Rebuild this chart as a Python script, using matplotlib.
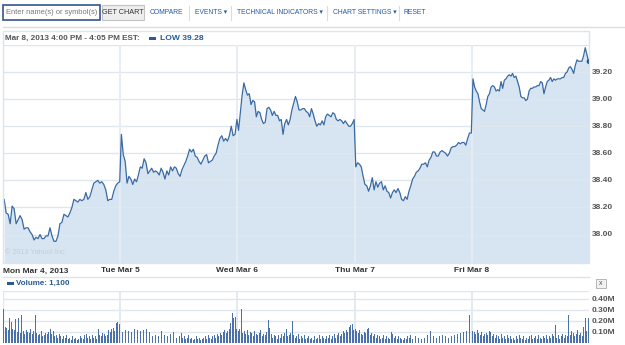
import matplotlib
matplotlib.use("Agg")
import matplotlib.pyplot as plt
from matplotlib.patches import Rectangle
from matplotlib.lines import Line2D
import numpy as np

plt.rcParams['font.family'] = ['Liberation Sans', 'DejaVu Sans']

# ---- data ----
day_labels = ["Mon Mar 4, 2013", "Tue Mar 5", "Wed Mar 6", "Thu Mar 7", "Fri Mar 8"]
price_ticks = [38.00, 38.20, 38.40, 38.60, 38.80, 39.00, 39.20]
vol_ticks = [100, 200, 300, 400]  # thousands

mon_low = [38.26, 38.16, 38.15, 38.08, 38.21, 38.19, 38.08, 38.11, 38.14, 38.11, 38.04, 38.05,
           38.05, 38.02, 38.00, 37.96, 37.98, 37.97, 38.00, 37.97, 37.97, 37.99, 37.99, 38.05,
           37.99, 37.95, 37.95, 37.99, 38.08, 38.09, 38.15, 38.14, 38.13, 38.16, 38.20, 38.26,
           38.25, 38.24, 38.26, 38.25, 38.26, 38.31, 38.26, 38.28, 38.33, 38.38, 38.39, 38.40,
           38.38, 38.39, 38.37, 38.33, 38.25, 38.26, 38.26, 38.32, 38.36, 38.38, 38.39]
tue_low = [38.74, 38.59, 38.54, 38.38, 38.43, 38.41, 38.37, 38.41, 38.39, 38.44, 38.50, 38.49,
           38.56, 38.53, 38.45, 38.47, 38.49, 38.46, 38.47, 38.46, 38.44, 38.49, 38.46, 38.41,
           38.47, 38.44, 38.50, 38.47, 38.50, 38.49, 38.45, 38.43, 38.48, 38.51, 38.54, 38.58,
           38.63, 38.61, 38.63, 38.58, 38.57, 38.54, 38.52, 38.55, 38.58, 38.59, 38.53, 38.54,
           38.55, 38.58, 38.60, 38.66, 38.71, 38.73, 38.69, 38.71, 38.69, 38.73, 38.80, 38.73,
           38.74, 38.85]
wed_low = [38.77, 38.90, 39.03, 39.12, 39.07, 39.03, 39.04, 38.96, 38.99, 38.98, 38.87, 38.91,
           38.90, 38.85, 38.82, 38.83, 38.93, 38.94, 38.92, 38.88, 38.91, 38.88, 38.88, 38.84,
           38.85, 38.74, 38.82, 38.85, 38.81, 38.85, 38.92, 38.97, 39.02, 38.98, 38.92, 38.92,
           38.93, 38.93, 38.91, 38.90, 38.87, 38.93, 38.89, 38.84, 38.80, 38.82, 38.81, 38.84,
           38.81, 38.87, 38.89, 38.88, 38.87, 38.90, 38.89, 38.85, 38.84, 38.85, 38.84, 38.82,
           38.84, 38.82, 38.80, 38.80, 38.82, 38.85]
thu_low = [38.50, 38.53, 38.52, 38.50, 38.43, 38.37, 38.36, 38.32, 38.36, 38.42, 38.33, 38.39,
           38.35, 38.38, 38.39, 38.33, 38.36, 38.32, 38.31, 38.27, 38.31, 38.33, 38.31, 38.34,
           38.31, 38.26, 38.25, 38.28, 38.26, 38.32, 38.36, 38.41, 38.43, 38.46, 38.47, 38.49,
           38.52, 38.52, 38.53, 38.50, 38.55, 38.57, 38.61, 38.61, 38.58, 38.58, 38.61, 38.62,
           38.61, 38.60, 38.58, 38.60, 38.64, 38.65, 38.65, 38.66, 38.68, 38.67, 38.68, 38.68,
           38.66, 38.71, 38.75, 38.75]
fri_low = [39.15, 39.09, 39.06, 39.04, 38.98, 38.93, 38.92, 38.91, 38.96, 39.02, 39.04, 39.09,
           39.10, 39.09, 39.06, 39.07, 39.06, 39.13, 39.08, 39.14, 39.15, 39.17, 39.18, 39.17,
           39.19, 39.16, 39.17, 39.13, 39.09, 39.02, 39.01, 39.01, 38.99, 39.00, 39.06, 39.08,
           39.08, 39.09, 39.09, 39.10, 39.10, 39.13, 39.12, 39.04, 39.09, 39.13, 39.14, 39.16,
           39.13, 39.15, 39.14, 39.15, 39.15, 39.15, 39.16, 39.16, 39.19, 39.20, 39.23, 39.24,
           39.22, 39.19, 39.25, 39.29, 39.28, 39.28, 39.28, 39.32, 39.38, 39.33, 39.28]

# 5-minute volume, thousands of shares
mon_vol = [310, 150, 140, 120, 230, 190, 130, 120, 220, 100, 230, 90, 260, 110, 80, 120, 100, 90,
           130, 80, 110, 260, 90, 70, 80, 110, 60, 70, 90, 80, 100, 130, 80, 110, 60, 70, 50, 80,
           60, 40, 60, 50, 70, 40, 50, 30, 60, 40, 50, 30, 40, 60, 50, 40, 70, 80, 50, 60, 40, 70,
           50, 60, 40, 130, 70, 60, 90, 80, 60, 70, 120, 100, 130, 140, 110, 180, 190, 170]
tue_vol = [110, 100, 90, 120, 220, 110, 90, 100, 80, 130, 90, 120, 70, 110, 80, 120, 90, 130,
           70, 100, 80, 60, 90, 70, 100, 60, 80, 110, 170, 70, 90, 60, 110, 80, 60, 100, 70, 50,
           80, 60, 90, 50, 60, 40, 50, 70, 40, 50, 30, 40, 60, 40, 50, 30, 40, 50, 60, 40, 70, 50,
           40, 60, 70, 50, 80, 60, 90, 70, 100, 120, 90, 110, 130, 180, 270, 230, 240, 130]
wed_vol = [110, 130, 310, 90, 110, 80, 120, 70, 100, 90, 60, 110, 80, 70, 90, 120, 60, 80, 70,
           100, 210, 140, 80, 50, 70, 60, 40, 70, 50, 80, 60, 90, 130, 60, 70, 90, 200, 70, 50, 60,
           80, 40, 60, 50, 70, 40, 50, 60, 40, 50, 30, 60, 40, 50, 70, 40, 60, 50, 40, 60, 50, 70,
           40, 60, 80, 50, 70, 90, 60, 80, 110, 90, 120, 100, 150, 160, 170, 120]
thu_vol = [130, 110, 90, 120, 80, 70, 100, 90, 130, 140, 70, 90, 60, 80, 50, 70, 60, 40, 50, 70,
           40, 60, 50, 40, 100, 80, 50, 60, 40, 60, 50, 40, 30, 50, 40, 60, 50, 70, 40, 50, 60, 40,
           50, 120, 40, 60, 50, 40, 70, 80, 110, 90, 60, 70, 50, 80, 60, 40, 70, 50, 60, 80, 50,
           70, 60, 90, 70, 150, 80, 60, 90, 70, 100, 80, 110, 90, 260, 120]
fri_vol = [110, 100, 80, 120, 90, 70, 100, 60, 80, 90, 70, 110, 100, 60, 80, 50, 70, 60, 40, 80,
           50, 60, 40, 70, 50, 60, 40, 50, 30, 60, 40, 70, 50, 40, 60, 30, 50, 40, 60, 70, 40, 50,
           60, 40, 70, 50, 40, 60, 50, 70, 40, 60, 50, 80, 60, 160, 50, 70, 40, 60, 80, 50, 70, 60,
           260, 70, 110, 90, 60, 80, 120, 70, 90, 60, 150, 230, 110, 230]

lows = [mon_low, tue_low, wed_low, thu_low, fri_low]
vols = [mon_vol, tue_vol, wed_vol, thu_vol, fri_vol]

# ---- layout helpers (pixel coords of a 625x345 canvas) ----
W, H = 625, 345
def fx(x):
    return x / W
def fy(y):
    return 1 - y / H

fig = plt.figure(figsize=(6.25, 3.45), dpi=100)
fig.patch.set_facecolor("white")

LINE = "#3a6aa3"
FILL = "#d6e5f1"
GRID = "#dfe7ee"
TICK = "#555555"
BLUE = "#2a5a96"

# ---- toolbar ----
fig.patches.append(Rectangle((fx(3), fy(20)), fx(97), 15 / H, transform=fig.transFigure,
                             fc="white", ec="#34558f", lw=1.2))
fig.text(fx(6), fy(12.5), "Enter name(s) or symbol(s)", fontsize=5.4, color="#777777", va="center")
fig.patches.append(Rectangle((fx(102), fy(20)), fx(42), 15 / H, transform=fig.transFigure,
                             fc="#eeeeee", ec="#c4c4c4", lw=0.8))
fig.text(fx(123), fy(12.5), "GET CHART", fontsize=5.2, color="#333333", va="center", ha="center")
links = [(150, "COMPARE"), (195, "EVENTS \u25be"), (237, "TECHNICAL INDICATORS \u25be"),
         (333, "CHART SETTINGS \u25be"), (404, "RESET")]
for x, t in links:
    fig.text(fx(x), fy(12.5), t, fontsize=4.9, color="#2459a3", va="center")
for x in [189, 231, 327, 399]:
    fig.lines.append(Line2D([fx(x), fx(x)], [fy(6), fy(20)], transform=fig.transFigure,
                            color="#dddddd", lw=0.8))
fig.lines.append(Line2D([fx(3), fx(625)], [fy(26.5), fy(26.5)], transform=fig.transFigure,
                        color="#dddddd", lw=1))

# ---- frame + header ----
fig.patches.append(Rectangle((fx(3), fy(263)), fx(586), (263 - 31) / H, transform=fig.transFigure,
                             fc="none", ec="#dde4ea", lw=1))
fig.text(fx(5), fy(38.5), "Mar 8, 2013 4:00 PM - 4:05 PM EST:", fontsize=5.9, color="#555555",
         va="center", fontweight="bold")
fig.patches.append(Rectangle((fx(149), fy(40)), fx(7), 2.5 / H, transform=fig.transFigure,
                             fc=BLUE, ec="none"))
fig.text(fx(160), fy(38.5), "LOW 39.28", fontsize=6.1, color=BLUE, va="center", fontweight="bold")

# ---- price panel ----
ax = fig.add_axes([fx(3), fy(263), fx(586), (263 - 45) / H])
x_all, y_all = [], []
for d, vals in enumerate(lows):
    x_all.append(d + np.linspace(0.01, 0.996, len(vals)))
    y_all.append(np.array(vals))
x_all = np.concatenate(x_all)
y_all = np.concatenate(y_all)
ymin, ymax = 37.79, 39.40
ax.fill_between(x_all, y_all, ymin, color=FILL, lw=0, zorder=1)
ax.plot(x_all, y_all, color=LINE, lw=0.9, zorder=3)
ax.plot(x_all[-1], y_all[-1], "o", color="#1d4a85", ms=3, zorder=4)
ax.set_xlim(0, 5)
ax.set_ylim(ymin, ymax)
for v in price_ticks + [39.40]:
    ax.axhline(v, color=GRID, lw=1, zorder=2)
for d in range(1, 5):
    ax.axvline(d, color="#e6ecf2", lw=1.3, zorder=2)
ax.set_xticks([])
ax.set_yticks([])
for s in ax.spines.values():
    s.set_visible(False)
ax.set_facecolor("none")
for v in price_ticks:
    ax.text(1.005, v, f"{v:.2f}", transform=ax.get_yaxis_transform(), fontsize=6,
            fontweight="bold", color=TICK, va="center", ha="left")
ax.text(0.004, 0.03, "\u00a9 2013 Yahoo! Inc.", transform=ax.transAxes, fontsize=5.2,
        color="#c3ccd6", va="bottom")
for d, lab in enumerate(day_labels):
    ax.text(d if d else 0.0, -0.02, lab, transform=ax.get_xaxis_transform(), fontsize=6,
            fontweight="bold", color="#333333", va="top", ha="center" if d else "left")
fig.lines.append(Line2D([fx(3), fx(589)], [fy(276.5), fy(276.5)], transform=fig.transFigure,
                        color="#dde4ea", lw=1))

# ---- volume panel ----
fig.patches.append(Rectangle((fx(7), fy(284.5)), fx(7), 2.5 / H, transform=fig.transFigure,
                             fc=BLUE, ec="none"))
fig.text(fx(16), fy(283), "Volume: 1,100", fontsize=5.8, color=BLUE, va="center", fontweight="bold")
fig.patches.append(Rectangle((fx(596), fy(288)), fx(10), 9 / H, transform=fig.transFigure,
                             fc="#f2f2f2", ec="#aaaaaa", lw=0.6))
fig.text(fx(601), fy(283.5), "x", fontsize=5, color="#555555", va="center", ha="center")

vax = fig.add_axes([fx(3), fy(343), fx(586), (343 - 291) / H])
for d, vals in enumerate(vols):
    n = len(vals)
    xs = d + (np.arange(n) + 0.5) / n
    vax.bar(xs, vals, width=0.6 / n, color="#4a72a8", lw=0, zorder=3)
vax.set_xlim(0, 5)
vax.set_ylim(0, 475)
for v in vol_ticks + [475]:
    vax.axhline(v, color=GRID, lw=1, zorder=1)
for d in range(1, 5):
    vax.axvline(d, color="#dfe7ee", lw=1.2, zorder=1)
vax.set_xticks([])
vax.set_yticks([])
for s in vax.spines.values():
    s.set_visible(False)
vax.axvline(0, color=GRID, lw=1)
for v in vol_ticks:
    vax.text(1.005, v, f"{v / 1000:.2f}M", transform=vax.get_yaxis_transform(), fontsize=6,
             fontweight="bold", color=TICK, va="center", ha="left")

fig.savefig("out.png", dpi=100)
